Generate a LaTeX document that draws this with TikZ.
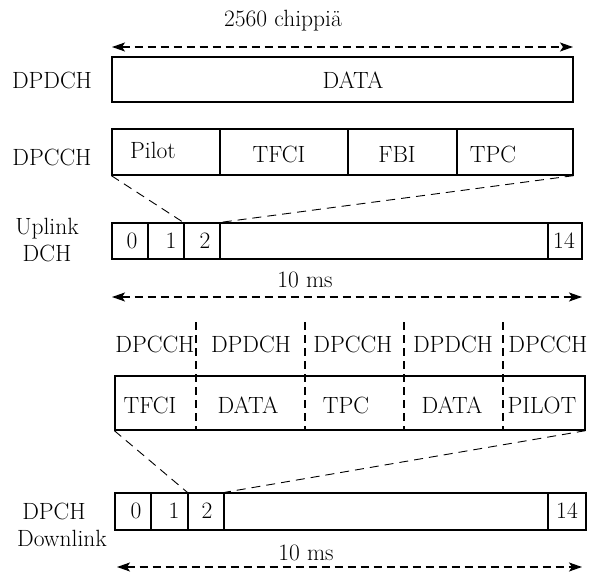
\documentclass[tikz,border=0pt]{standalone}
\usetikzlibrary{arrows.meta}

\begin{document}
\begin{tikzpicture}[x=1pt, y=-1pt,
    every node/.style={inner sep=0pt, font=\fontsize{23.5}{27}\selectfont},
    cell/.style={draw, rectangle, line width=1.3pt},
    span/.style={line width=1.3pt, dash pattern=on 8pt off 5pt,
        {Stealth[length=13pt,width=9pt,inset=3pt]}-{Stealth[length=13pt,width=9pt,inset=3pt]}},
    zoomline/.style={line width=0.9pt, dash pattern=on 9pt off 6pt},
    sepline/.style={line width=1.2pt, dash pattern=on 8pt off 5pt}]

\useasboundingbox (0,0) rectangle (592,572);

% Uplink: slot length
\coordinate (s1l) at (112,47);
\coordinate (s1r) at (573,47);
\draw[span] (s1l) -- (s1r);
\node (chips) at (283,21) {2560 chippiä};

% DPDCH
\node[cell, minimum width=461pt, minimum height=45pt] (dpdch) at (342.5,79.5) {};
\node (dpdchlbl) at (52,80) {DPDCH};
\node (data1) at (353,80) {DATA};

% DPCCH fields
\node[cell, minimum width=108pt, minimum height=46pt] (pilot) at (166,152) {};
\node[cell, minimum width=128pt, minimum height=46pt] (tfci) at (284,152) {};
\node[cell, minimum width=109pt, minimum height=46pt] (fbi) at (402.5,152) {};
\node[cell, minimum width=116pt, minimum height=46pt] (tpc) at (515,152) {};
\node (dpcchlbl) at (52,157) {DPCCH};
\node (pilottxt) at (153,150) {Pilot};
\node (tfcitxt) at (279,154) {TFCI};
\node (fbitxt) at (397,154) {FBI};
\node (tpctxt) at (493,154) {TPC};

% Uplink DCH frame
\node[cell, minimum width=36pt, minimum height=36pt] (u0) at (130,241) {};
\node[cell, minimum width=36pt, minimum height=36pt] (u1) at (166,241) {};
\node[cell, minimum width=36pt, minimum height=36pt] (u2) at (202,241) {};
\node[cell, minimum width=328pt, minimum height=36pt] (umid) at (384,241) {};
\node[cell, minimum width=34pt, minimum height=36pt] (u14) at (565,241) {};
\node (u0txt) at (132,241) {0};
\node (u1txt) at (171,241) {1};
\node (u2txt) at (205,241) {2};
\node (u14txt) at (564,241) {14};
\node (uplbl) at (47,229) {Uplink};
\node (dchlbl) at (47,253) {DCH};

\draw[zoomline] (pilot.south west) -- (u2.north west);
\draw[zoomline] (tpc.south east) -- (u2.north east);

\node (ums) at (305,280) {10 ms};
\coordinate (f1l) at (112,297);
\coordinate (f1r) at (582,297);
\draw[span] (f1l) -- (f1r);

% Downlink slot
\node (ch1) at (155,344) {DPCCH};
\node (ch2) at (251,344) {DPDCH};
\node (ch3) at (353,344) {DPCCH};
\node (ch4) at (453,344) {DPDCH};
\node (ch5) at (548,344) {DPCCH};

\node[cell, minimum width=470pt, minimum height=54pt] (slot) at (350,403) {};
\node (f1) at (150,405) {TFCI};
\node (f2) at (248,405) {DATA};
\node (f3) at (346,405) {TPC};
\node (f4) at (452,405) {DATA};
\node (f5) at (542,405) {PILOT};

\draw[sepline] (196,322) -- (196,430);
\draw[sepline] (305,322) -- (305,430);
\draw[sepline] (404,322) -- (404,430);
\draw[sepline] (503,322) -- (503,430);

% DPCH downlink frame
\node[cell, minimum width=36pt, minimum height=37pt] (d0) at (133,511.5) {};
\node[cell, minimum width=37pt, minimum height=37pt] (d1) at (169.5,511.5) {};
\node[cell, minimum width=36pt, minimum height=37pt] (d2) at (206,511.5) {};
\node[cell, minimum width=324pt, minimum height=37pt] (dmid) at (386,511.5) {};
\node[cell, minimum width=38pt, minimum height=37pt] (d14) at (567,511.5) {};
\node (d0txt) at (136,511) {0};
\node (d1txt) at (174,511) {1};
\node (d2txt) at (207,511) {2};
\node (d14txt) at (567,511) {14};
\node (dpchlbl) at (54,511) {DPCH};
\node (downlbl) at (62,538) {Downlink};

\draw[zoomline] (slot.south west) -- (d2.north west);
\draw[zoomline] (slot.south east) -- (d2.north east);

\node (dms) at (306,553) {10 ms};
\coordinate (f2l) at (117,567);
\coordinate (f2r) at (582,567);
\draw[span] (f2l) -- (f2r);

\end{tikzpicture}
\end{document}
